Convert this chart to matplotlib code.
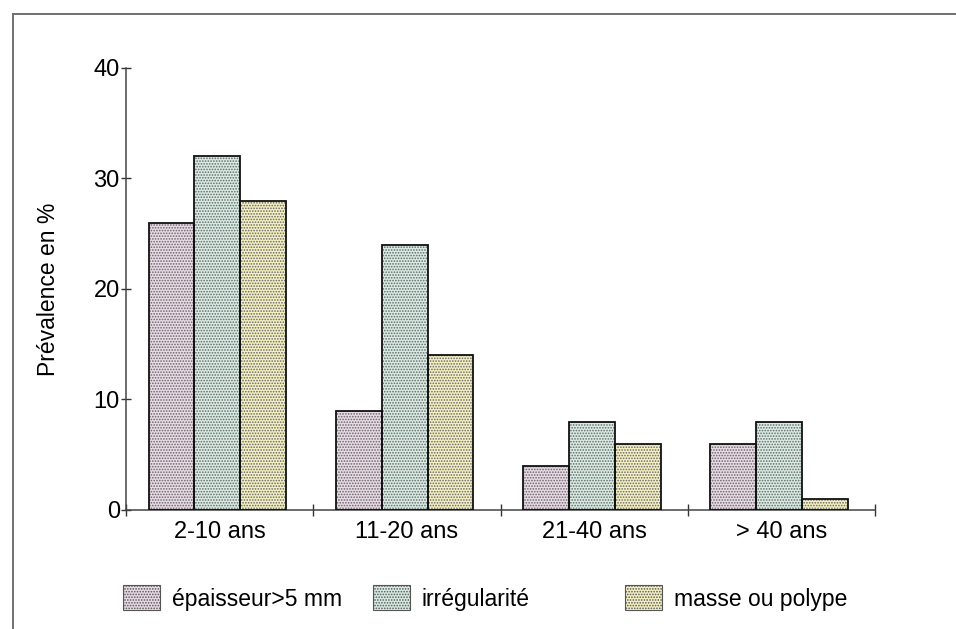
import matplotlib
matplotlib.use("Agg")
import matplotlib.pyplot as plt
import numpy as np
from matplotlib.patches import Patch
from matplotlib.lines import Line2D

categories = ["2-10 ans", "11-20 ans", "21-40 ans", "> 40 ans"]
series_names = ["épaisseur>5 mm", "irrégularité", "masse ou polype"]
epaisseur = [26, 9, 4, 6]
irregularite = [32, 24, 8, 8]
masse = [28, 14, 6, 1]
values = [epaisseur, irregularite, masse]
colors = ["#e8dae6", "#d8ece4", "#f4f0c2"]
yticks = [0, 10, 20, 30, 40]

plt.rcParams['font.family'] = ['Liberation Sans', 'DejaVu Sans']
plt.rcParams['hatch.linewidth'] = 0.8

fig = plt.figure(figsize=(9.56, 6.29), dpi=100)
ax = fig.add_axes([0.1318, 0.1892, 0.7835, 0.7027])

x = np.arange(len(categories))
w = 0.245
for i, (vals, c) in enumerate(zip(values, colors)):
    pos = x + (i - 1) * w - 0.012
    ax.bar(pos, vals, width=w, color=c, edgecolor="#666666", hatch="......",
           linewidth=0, zorder=2)
    ax.bar(pos, vals, width=w, facecolor="none", edgecolor="#111111",
           linewidth=1.3, zorder=3)

ax.set_xlim(-0.5, len(categories) - 0.5)
ax.set_ylim(0, 40)
ax.set_yticks(yticks)
ax.set_yticklabels([str(t) for t in yticks])
ax.set_xticks(x)
ax.set_xticklabels(categories)
ax.set_xticks(np.arange(len(categories) + 1) - 0.5, minor=True)
ax.tick_params(axis='x', which='major', length=0, pad=8, labelsize=17)
ax.tick_params(axis='x', which='minor', length=8, direction='inout', width=1, color="#333333")
ax.tick_params(axis='y', which='major', length=7, direction='inout', width=1, color="#333333", labelsize=17, pad=1)
for s in ["top", "right"]:
    ax.spines[s].set_visible(False)
for s in ["left", "bottom"]:
    ax.spines[s].set_color("#444444")
    ax.spines[s].set_linewidth(1.1)
ax.set_ylabel("Prévalence en %", fontsize=16.5, labelpad=24)

# outer frame lines
fig.add_artist(Line2D([13/956, 1.0], [1 - 14/629, 1 - 14/629], color="#707070", lw=1.4))
fig.add_artist(Line2D([13/956, 13/956], [0, 1 - 14/629], color="#707070", lw=1.4))

fs = 16.5
lx = [123/956, 373/956, 625/956]
for name, c, xx in zip(series_names, colors, lx):
    h = Patch(facecolor=c, edgecolor="#555555", hatch="......", linewidth=0.8)
    fig.legend(handles=[h], labels=[name], loc='center left',
               bbox_to_anchor=(xx, 1 - 598/629), frameon=False, fontsize=fs,
               borderpad=0, borderaxespad=0, handlelength=1.62, handleheight=1.3,
               handletextpad=0.5)

fig.savefig("out.png", dpi=100)
